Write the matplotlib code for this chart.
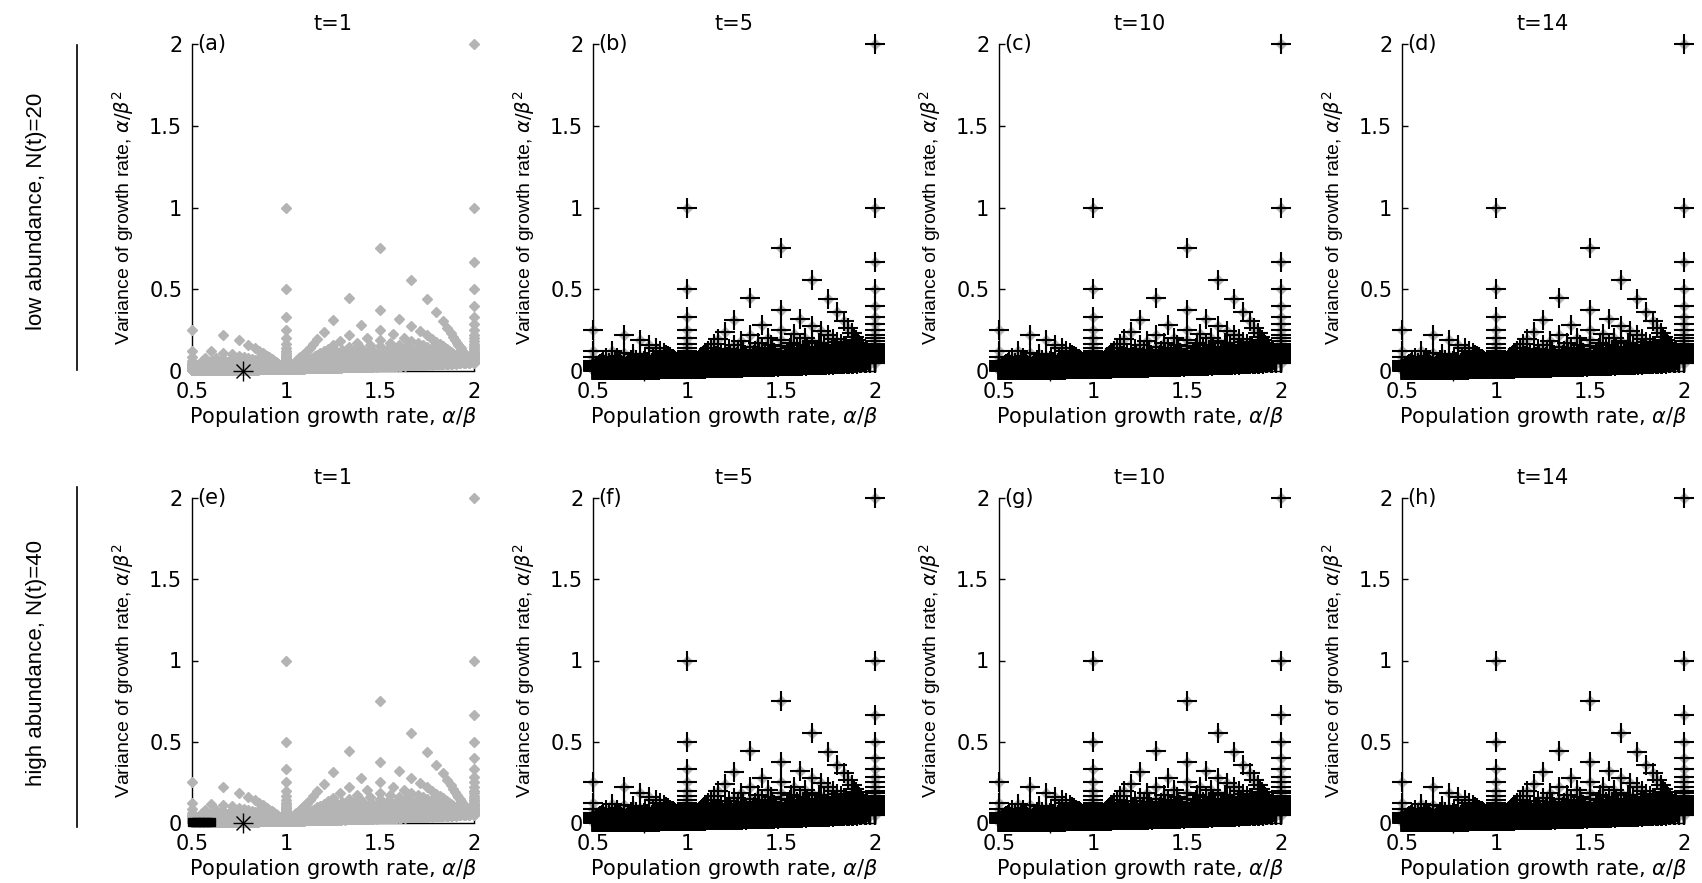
import matplotlib
matplotlib.use("Agg")
import matplotlib.pyplot as plt
from matplotlib import font_manager
from matplotlib.lines import Line2D

# ---------------- data ----------------
# parameter grid of the gamma growth-rate model (shape alpha, rate beta)
alpha_values = list(range(1, 81))
beta_values = list(range(1, 121))
rate_min, rate_max = 0.5, 2.0

# true value marker
true_rate = [0.77]
true_var = [0.0]

# consistent points in panel (e) (high abundance, t=1)
e_rate = [0.50, 0.52, 0.54, 0.56, 0.58, 0.60]
e_var = [0.004, 0.004, 0.004, 0.004, 0.004, 0.004]

times = ["t=1", "t=5", "t=10", "t=14"]
panel_letters = [["(a)", "(b)", "(c)", "(d)"], ["(e)", "(f)", "(g)", "(h)"]]
row_labels = ["low abundance, N(t)=20", "high abundance, N(t)=40"]
x_ticks = [0.5, 1, 1.5, 2]
x_ticklabels = ["0.5", "1", "1.5", "2"]
y_ticks = [0, 0.5, 1, 1.5, 2]
y_ticklabels = ["0", "0.5", "1", "1.5", "2"]

# grid points (mean alpha/beta, variance alpha/beta^2)
grid_rate, grid_var = [], []
for b in beta_values:
    for a in alpha_values:
        r = a / b
        if rate_min <= r <= rate_max:
            grid_rate.append(r)
            grid_var.append(a / b ** 2)

# ---------------- fonts ----------------
names = {f.name for f in font_manager.fontManager.ttflist}
if "Liberation Sans Narrow" in names:
    rot_family = ["Liberation Sans Narrow", "DejaVu Sans"]
    ylab_size, row_size = 17, 19
else:
    rot_family = ["Liberation Sans", "DejaVu Sans"]
    ylab_size, row_size = 14, 16

plt.rcParams["font.family"] = ["DejaVu Sans"]
plt.rcParams["mathtext.fontset"] = "dejavusans"

W, H = 1702, 883
fig = plt.figure(figsize=(W / 100, H / 100), dpi=100)

lefts = [192, 593, 999, 1402]
ax_w = 282
rows_px = [(44, 371), (498, 823)]

gray = "#b4b4b4"

for ri, (top, bot) in enumerate(rows_px):
    for ci, lp in enumerate(lefts):
        ax = fig.add_axes([lp / W, 1 - bot / H, ax_w / W, (bot - top) / H])
        ax.plot(grid_rate, grid_var, linestyle="none", marker="D", markersize=5,
                color=gray, markeredgecolor=gray, clip_on=False, zorder=3)
        if ci > 0:
            ax.plot(grid_rate, grid_var, linestyle="none", marker="+", markersize=14,
                    markeredgewidth=1.5, color="black", clip_on=False, zorder=4)
        elif ri == 1:
            ax.plot(e_rate, e_var, linestyle="none", marker="s", markersize=6,
                    color="black", clip_on=False, zorder=4)
        # asterisk marker (plus + cross)
        ax.plot(true_rate, true_var, linestyle="none", marker="+", markersize=14,
                color="black", markeredgewidth=1.0, clip_on=False, zorder=5)
        ax.plot(true_rate, true_var, linestyle="none", marker="x", markersize=10,
                color="black", markeredgewidth=1.0, clip_on=False, zorder=5)

        ax.set_xlim(0.5, 2)
        ax.set_ylim(0, 2)
        ax.set_xticks(x_ticks)
        ax.set_xticklabels(x_ticklabels)
        ax.set_yticks(y_ticks)
        ax.set_yticklabels(y_ticklabels)
        for s in ["top", "right"]:
            ax.spines[s].set_visible(False)
        for s in ["left", "bottom"]:
            ax.spines[s].set_linewidth(1.0)
            ax.spines[s].set_zorder(2)
        ax.tick_params(direction="in", length=4, width=1.0, labelsize=15, pad=7)
        ax.tick_params(axis="x", pad=8)
        ax.set_title(times[ci], fontsize=15, pad=10)
        ax.set_xlabel(r"Population growth rate, $\alpha/\beta$", fontsize=15, labelpad=2)
        ax.set_ylabel(r"Variance of growth rate, $\alpha/\beta^2$",
                      fontsize=ylab_size, family=rot_family)
        ax.yaxis.set_label_coords(-0.2, 0.47)
        ax.text(0.02, 1.0, panel_letters[ri][ci], transform=ax.transAxes,
                fontsize=15, ha="left", va="center")

# row labels with vertical bars
row_text_y = [211, 663]
bar_spans = [(45, 370), (487, 827)]
for ri in range(2):
    fig.text(37 / W, 1 - row_text_y[ri] / H, row_labels[ri], rotation=90,
             ha="center", va="center", fontsize=row_size, family=rot_family)
    y0, y1 = bar_spans[ri]
    fig.add_artist(Line2D([77 / W, 77 / W], [1 - y0 / H, 1 - y1 / H],
                          transform=fig.transFigure, color="black", linewidth=1.2))

fig.savefig("out.png", dpi=100, facecolor="white")
